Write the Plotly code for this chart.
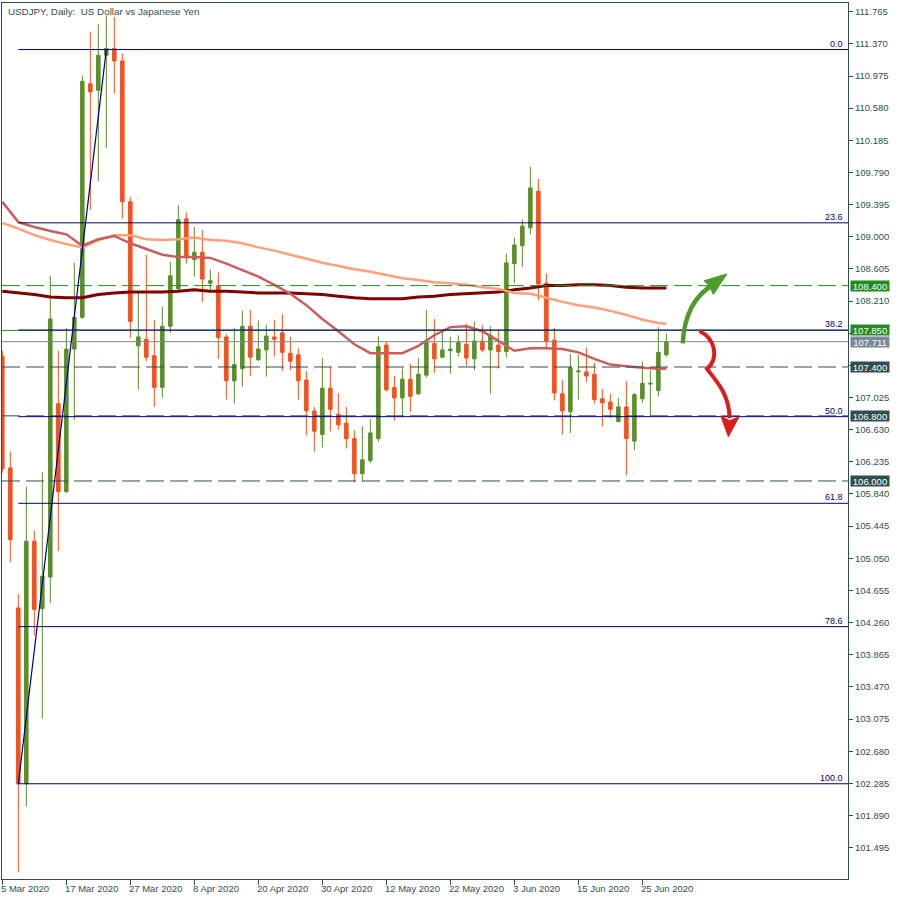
import plotly.graph_objects as go

# ---------------- data ----------------
tick_labels = ["5 Mar 2020", "17 Mar 2020", "27 Mar 2020", "8 Apr 2020", "20 Apr 2020",
               "30 Apr 2020", "12 May 2020", "22 May 2020", "3 Jun 2020", "15 Jun 2020",
               "25 Jun 2020"]
tick_bars = [0, 8, 16, 24, 32, 40, 48, 56, 64, 72, 80]

opens = [107.53, 106.16, 104.44, 102.28, 105.26, 104.43, 104.82, 106.95, 105.87, 107.62,
         108.01, 110.88, 110.80, 111.23, 111.315, 111.16, 109.43, 107.66, 107.74, 107.54,
         107.15, 107.90, 108.36, 109.22, 108.72, 108.81, 108.43, 108.40, 107.77, 107.23,
         107.38, 107.90, 107.49, 107.61, 107.77, 107.82, 107.57, 107.55, 107.24, 106.86,
         106.57, 107.14, 106.82, 106.71, 106.52, 106.09, 106.25, 106.52, 107.67, 107.15,
         107.02, 107.25, 107.07, 107.30, 107.69, 107.52, 107.60, 107.58, 107.68, 107.50,
         107.72, 107.61, 107.67, 107.59, 108.67, 108.89, 109.11, 109.56, 108.43, 107.73,
         107.07, 106.85, 107.34, 107.34, 107.31, 107.01, 106.97, 106.73, 106.91, 106.49,
         107.01, 107.19, 107.11, 107.55]
highs = [107.60, 106.36, 104.61, 105.93, 105.39, 106.11, 108.52, 107.60, 107.88, 108.68,
         110.98, 111.52, 111.61, 111.72, 111.70, 111.25, 109.49, 108.31, 108.78, 107.98,
         108.14, 108.69, 109.39, 109.30, 109.12, 109.08, 108.60, 108.56, 107.80, 107.88,
         108.09, 108.10, 107.97, 107.92, 107.98, 108.05, 107.77, 107.63, 107.35, 106.91,
         107.51, 107.40, 107.08, 106.91, 106.62, 106.67, 106.76, 107.78, 107.71, 107.29,
         107.38, 107.44, 107.51, 108.10, 107.99, 107.86, 107.77, 107.79, 107.93, 107.96,
         107.92, 107.90, 107.86, 108.79, 108.99, 109.21, 109.86, 109.71, 108.55, 107.88,
         107.24, 107.56, 107.55, 107.64, 107.45, 107.13, 107.07, 107.02, 107.23, 107.08,
         107.47, 107.36, 107.89, 107.81]
lows = [106.10, 105.00, 101.19, 102.00, 104.10, 103.08, 104.50, 105.14, 105.85, 106.75,
        107.99, 109.33, 109.68, 110.09, 110.76, 109.22, 107.76, 107.12, 107.47, 106.91,
        107.02, 107.82, 108.34, 108.67, 108.51, 108.20, 108.35, 107.50, 107.00, 106.95,
        107.16, 107.29, 107.47, 107.28, 107.53, 107.35, 107.36, 107.00, 106.56, 106.36,
        106.41, 106.61, 106.63, 106.40, 105.98, 105.99, 106.22, 106.48, 107.10, 106.74,
        106.78, 106.85, 107.06, 107.27, 107.33, 107.51, 107.32, 107.53, 107.41, 107.36,
        107.58, 107.07, 107.38, 107.52, 108.43, 108.63, 109.03, 108.22, 107.63, 106.99,
        106.57, 106.59, 107.00, 107.21, 106.95, 106.67, 106.77, 106.72, 106.07, 106.38,
        106.96, 106.80, 107.04, 107.53]
closes = [106.15, 105.28, 102.28, 105.26, 104.42, 104.83, 107.99, 105.87, 107.62, 108.01,
          110.91, 110.78, 111.23, 111.315, 111.16, 109.43, 107.96, 107.77, 107.52, 107.15,
          107.90, 108.52, 109.21, 108.74, 108.81, 108.48, 108.46, 107.76, 107.23, 107.43,
          107.90, 107.52, 107.62, 107.78, 107.74, 107.58, 107.47, 107.23, 106.86, 106.61,
          107.14, 106.88, 106.69, 106.52, 106.09, 106.26, 106.59, 107.65, 107.12, 107.02,
          107.25, 107.04, 107.31, 107.71, 107.50, 107.61, 107.62, 107.70, 107.51, 107.72,
          107.61, 107.79, 107.59, 108.68, 108.90, 109.13, 109.60, 108.42, 107.71, 107.08,
          106.86, 107.39, 107.35, 107.29, 107.00, 106.96, 106.88, 106.91, 106.52, 107.06,
          107.20, 107.20, 107.58, 107.711]
bars = list(range(len(opens)))

ma_bars = list(range(0, 84, 2)) + [83]
ma_fast = [109.43, 109.18, 109.12, 109.07, 109.03, 108.89, 108.97, 109.01, 108.92, 108.85,
           108.78, 108.75, 108.75, 108.74, 108.67, 108.59, 108.51, 108.41, 108.30, 108.16,
           107.99, 107.84, 107.68, 107.57, 107.57, 107.57, 107.66, 107.79, 107.89, 107.90,
           107.84, 107.72, 107.60, 107.63, 107.63, 107.62, 107.58, 107.50, 107.43, 107.41,
           107.39, 107.38, 107.38]
ma_mid = [109.17, 109.10, 109.02, 108.96, 108.91, 108.87, 108.96, 109.02, 109.02, 108.97,
          108.96, 108.97, 108.99, 108.96, 108.95, 108.92, 108.87, 108.83, 108.78, 108.73,
          108.68, 108.64, 108.60, 108.57, 108.53, 108.49, 108.47, 108.44, 108.43, 108.41,
          108.38, 108.36, 108.31, 108.30, 108.25, 108.20, 108.16, 108.13, 108.09, 108.04,
          107.98, 107.94, 107.93]
ma_slow = [108.33, 108.31, 108.29, 108.26, 108.25, 108.25, 108.29, 108.31, 108.32, 108.32,
           108.32, 108.33, 108.35, 108.33, 108.33, 108.32, 108.31, 108.31, 108.31, 108.30,
           108.29, 108.27, 108.25, 108.24, 108.24, 108.24, 108.26, 108.27, 108.29, 108.30,
           108.31, 108.32, 108.35, 108.37, 108.40, 108.40, 108.41, 108.41, 108.40, 108.38,
           108.37, 108.37, 108.37]

price_ticks = [101.495, 101.890, 102.285, 102.680, 103.075, 103.470, 103.865, 104.260,
               104.655, 105.050, 105.445, 105.840, 106.235, 106.630, 107.025, 107.420,
               107.815, 108.210, 108.605, 109.000, 109.395, 109.790, 110.185, 110.580,
               110.975, 111.370, 111.765]
# shown labels (MT5 hides those overlapped by level boxes)
price_tick_text = ["101.495", "101.890", "102.285", "102.680", "103.075", "103.470", "103.865",
                   "104.260", "104.655", "105.050", "105.445", "105.840", "106.235", "106.630",
                   "107.025", "", "", "108.210", "108.605", "109.000", "109.395", "109.790",
                   "110.185", "110.580", "110.975", "111.370", "111.765"]

level_prices = [108.400, 107.850, 107.711, 107.400, 106.800, 106.000]
level_labels = ["108.400", "107.850", "107.711", "107.400", "106.800", "106.000"]

fib_ratios = [0.0, 23.6, 38.2, 50.0, 61.8, 78.6, 100.0]
fib_names = ["0.0", "23.6", "38.2", "50.0", "61.8", "78.6", "100.0"]
fib_high = 111.30
fib_low = 102.28
fib_start_bar = 2
fib_end_bar = 13

# ---------------- style ----------------
GREEN = "#5A8F29"
RED = "#F4511E"
SLATE = "#2F4F4F"
NAVY = "#000080"
LVL_GREEN = "#228B22"
BID_GRAY = "#778899"
FONT = "Liberation Sans"
X_MIN, X_MAX = -0.04, 105.7
Y_MIN, Y_MAX = 101.11, 111.872

fig = go.Figure()

fig.add_trace(go.Candlestick(
    x=bars, open=opens, high=highs, low=lows, close=closes,
    increasing=dict(line=dict(color=GREEN, width=1), fillcolor=GREEN),
    decreasing=dict(line=dict(color=RED, width=1), fillcolor=RED),
    whiskerwidth=0, showlegend=False, hoverinfo="skip"))

fig.add_trace(go.Scatter(x=ma_bars, y=ma_slow, mode="lines",
                         line=dict(color="#800000", width=3), showlegend=False, hoverinfo="skip"))
fig.add_trace(go.Scatter(x=ma_bars, y=ma_mid, mode="lines",
                         line=dict(color="#FFA07A", width=2.5), showlegend=False, hoverinfo="skip"))
fig.add_trace(go.Scatter(x=ma_bars, y=ma_fast, mode="lines",
                         line=dict(color="#CD5C5C", width=2.5), showlegend=False, hoverinfo="skip"))

shapes = []
# horizontal levels
level_styles = [
    dict(color=LVL_GREEN, dash="18px,6px"),
    dict(color=LVL_GREEN, dash="solid"),
    dict(color=BID_GRAY, dash="solid"),
    dict(color=SLATE, dash="18px,6px"),
    dict(color=SLATE, dash="18px,6px"),
    dict(color=SLATE, dash="18px,6px"),
]
for p, st in zip(level_prices, level_styles):
    shapes.append(dict(type="line", xref="paper", yref="y", x0=0, x1=1, y0=p, y1=p,
                       line=dict(color=st["color"], width=1, dash=st["dash"]), layer="above"))

# fibonacci levels
fib_levels = [fib_high - r / 100.0 * (fib_high - fib_low) for r in fib_ratios]
for lv in fib_levels:
    shapes.append(dict(type="line", xref="x", yref="y", x0=fib_start_bar, x1=X_MAX, y0=lv, y1=lv,
                       line=dict(color=NAVY, width=1), layer="above"))
# fib trend line
shapes.append(dict(type="line", xref="x", yref="y", x0=fib_start_bar, y0=fib_low,
                   x1=fib_end_bar, y1=fib_high, line=dict(color=NAVY, width=1.2), layer="above"))

# scenario arrows (bar index, price)
AG = "#4E9B2B"
AR = "#DD1C1C"
shapes.append(dict(type="path", xref="x", yref="y",
                   path="M 85.05,107.69 C 85.21,108.04 86.59,108.285 88.96,108.42",
                   line=dict(color=AG, width=4.5), layer="above"))
shapes.append(dict(type="path", xref="x", yref="y",
                   path="M 90.55,108.543 L 87.7,108.46 L 88.35,108.40 L 88.87,108.29 Z",
                   fillcolor=AG, line=dict(color=AG, width=1), layer="above"))
shapes.append(dict(type="path", xref="x", yref="y",
                   path=("M 87.125,107.842 C 88.96,107.756 89.71,107.523 88.09,107.375 "
                         "C 89.46,107.203 90.84,107.056 90.9,106.773"),
                   line=dict(color=AR, width=4), layer="above"))
shapes.append(dict(type="path", xref="x", yref="y",
                   path="M 90.75,106.544 L 89.8,106.80 L 90.9,106.74 L 92.1,106.79 Z",
                   fillcolor=AR, line=dict(color=AR, width=1), layer="above"))

annotations = []
# title
annotations.append(dict(xref="paper", yref="paper", x=0, y=1, xanchor="left", yanchor="top",
                        xshift=4, yshift=-1, showarrow=False,
                        text="USDJPY, Daily:\u00a0\u00a0US Dollar vs Japanese Yen",
                        font=dict(family=FONT, size=9.8, color=SLATE)))
# fib labels
for lv, nm in zip(fib_levels, fib_names):
    annotations.append(dict(xref="paper", yref="y", x=1, y=lv, xanchor="right", yanchor="bottom",
                            xshift=-3, yshift=-1, showarrow=False, text=nm,
                            font=dict(family=FONT, size=9, color=NAVY)))
# level price boxes
box_bg = [LVL_GREEN, LVL_GREEN, BID_GRAY, SLATE, SLATE, SLATE]
for p, t, bg in zip(level_prices, level_labels, box_bg):
    annotations.append(dict(xref="paper", yref="y", x=1, y=p, xanchor="left", yanchor="middle",
                            xshift=2, showarrow=False, text=t, bgcolor=bg, width=38, height=10,
                            borderpad=0, font=dict(family=FONT, size=9.5, color="white")))
# date labels
for b, t in zip(tick_bars, tick_labels):
    annotations.append(dict(xref="x", yref="paper", x=b, y=0, xanchor="left", yanchor="top",
                            xshift=-3, yshift=-2, showarrow=False, text=t,
                            font=dict(family=FONT, size=9.5, color=SLATE)))

fig.update_layout(
    width=900, height=900, autosize=False,
    margin=dict(l=2, r=52, t=3, b=21),
    paper_bgcolor="white", plot_bgcolor="white",
    showlegend=False, boxgap=0.375,
    shapes=shapes, annotations=annotations,
    xaxis=dict(range=[X_MIN, X_MAX], rangeslider=dict(visible=False), showgrid=False,
               zeroline=False, tickmode="array", tickvals=tick_bars, showticklabels=False,
               ticks="outside", ticklen=5, tickcolor=SLATE, showline=True, linecolor=SLATE,
               linewidth=1, mirror=True, fixedrange=True),
    yaxis=dict(range=[Y_MIN, Y_MAX], side="right", showgrid=False, zeroline=False,
               tickmode="array", tickvals=price_ticks, ticktext=price_tick_text,
               ticks="outside", ticklen=4, tickcolor=SLATE, showline=True, linecolor=SLATE,
               linewidth=1, mirror=True, tickfont=dict(family=FONT, size=9.5, color=SLATE),
               fixedrange=True),
)

fig.write_html("out.html",
               config={"displayModeBar": False, "staticPlot": True},
               post_script="document.body.style.margin='0';document.body.style.padding='0';"
                           "document.body.style.overflow='hidden';")
